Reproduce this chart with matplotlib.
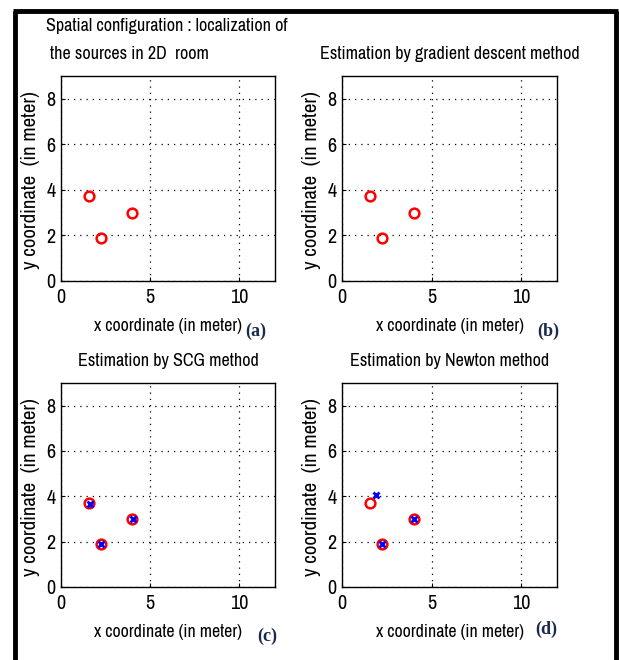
import matplotlib
matplotlib.use("Agg")
import matplotlib.pyplot as plt
from matplotlib.lines import Line2D

plt.rcParams["font.family"] = ["Archivo Narrow", "DejaVu Sans"]

W, H = 619, 660

# true source positions (m)
src_x = [1.55, 2.25, 4.0]
src_y = [3.72, 1.9, 3.0]

# SCG estimates
scg_x = [1.6, 2.25, 4.05]
scg_y = [3.68, 1.9, 3.0]

# Newton estimates
newton_x = [1.9, 2.25, 4.0]
newton_y = [4.08, 1.88, 3.02]

titles = [
    None,
    "Estimation by gradient descent method",
    "Estimation by SCG method",
    "Estimation by Newton method",
]
tags = ["(a)", "(b)", "(c)", "(d)"]

# axes boxes in pixels: left, top, right, bottom
boxes = [
    (61, 76, 275, 281),
    (342, 76, 557, 281),
    (61, 383, 275, 587),
    (342, 383, 557, 587),
]
estimates = [None, None, (scg_x, scg_y), (newton_x, newton_y)]
tag_pos = [(256, 331), (548, 331), (267, 636), (546, 629)]

fig = plt.figure(figsize=(W / 100, H / 100), dpi=100)
fig.set_facecolor("white")


def fx(px):
    return px / W


def fy(py):
    return 1 - py / H


for i, (l, t, r, b) in enumerate(boxes):
    ax = fig.add_axes([fx(l), fy(b), (r - l) / W, (b - t) / H])
    ax.plot(src_x, src_y, "o", ls="none", mfc="none", mec="red",
            ms=7, mew=1.8, zorder=3)
    if estimates[i] is not None:
        ex, ey = estimates[i]
        ax.plot(ex, ey, "x", ls="none", color="blue", ms=5, mew=2, zorder=4)
    ax.set_xlim(0, 12)
    ax.set_ylim(0, 9)
    ax.set_xticks([0, 5, 10])
    ax.set_yticks([0, 2, 4, 6, 8])
    ax.grid(True, color="black", linestyle=(0, (1, 4)), linewidth=0.9)
    ax.tick_params(direction="in", length=3, labelsize=14.5, top=False, right=False)
    ax.tick_params(axis="x", pad=5)
    ax.tick_params(axis="y", pad=4)
    for sp in ax.spines.values():
        sp.set_linewidth(1.0)
    ax.set_xlabel("x coordinate (in meter)", fontsize=12.8, labelpad=8)
    ax.set_ylabel("y coordinate  (in meter)", fontsize=15)
    ax.yaxis.set_label_coords(-0.098, 0.49)
    if titles[i]:
        ax.set_title(titles[i], fontsize=13, pad=12)

# two-line title of the first panel
fig.text(fx(46), fy(26), "Spatial configuration : localization of",
         fontsize=13, ha="left", va="center")
fig.text(fx(50), fy(54), "the sources in 2D  room",
         fontsize=13, ha="left", va="center")

for tag, (px, py) in zip(tags, tag_pos):
    fig.text(fx(px), fy(py), tag, fontsize=13, fontweight="bold",
             family=["Liberation Serif", "DejaVu Serif"], color="#1a2a4a",
             ha="center", va="center")

# black frame (open at the bottom)
frame = dict(color="black", linewidth=3.5, solid_capstyle="butt",
             transform=fig.transFigure)
fig.add_artist(Line2D([fx(15), fx(15)], [fy(11), 0], **frame))
fig.add_artist(Line2D([fx(13), fx(618)], [fy(10.5), fy(10.5)], **frame))
fig.add_artist(Line2D([fx(615.5), fx(615.5)], [fy(11), 0], **frame))

fig.savefig("out.png", dpi=100, facecolor=fig.get_facecolor())
